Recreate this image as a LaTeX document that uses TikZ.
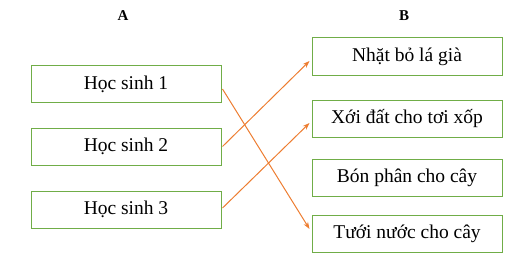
\documentclass[tikz,border=0pt]{standalone}
\usepackage{fontspec}
\setmainfont{Liberation Serif}
\usetikzlibrary{arrows.meta}
\definecolor{boxgreen}{RGB}{112,173,71}
\definecolor{arrorange}{RGB}{237,125,49}
\begin{document}
\begin{tikzpicture}[x=1pt,y=-1pt,
  itembox/.style={draw=boxgreen,line width=1pt,minimum width=190pt,minimum height=37pt,inner sep=0pt,font=\fontsize{19.5}{22}\selectfont},
  head/.style={font=\fontsize{15}{18}\selectfont\bfseries},
  arr/.style={draw=arrorange,line width=1pt,-{Stealth[length=7pt,width=5pt]}}]
\useasboundingbox (0,0) rectangle (511,262);
\node[head] (ha) at (123,16) {A};
\node[head] (hb) at (404,16) {B};
\node[itembox] (h1) at (126,84) {Học sinh 1};
\node[itembox] (h2) at (126,146.5) {Học sinh 2};
\node[itembox] (h3) at (126,209.5) {Học sinh 3};
\node[itembox] (b1) at (407,56.5) {Nhặt bỏ lá già};
\node[itembox] (b2) at (407,118.5) {Xới đất cho tơi xốp};
\node[itembox] (b3) at (407,178) {Bón phân cho cây};
\node[itembox] (b4) at (407,233.5) {Tưới nước cho cây};
\draw[arr] ([xshift=1pt,yshift=-5pt]h1.east) -- ([xshift=-2pt,yshift=4.5pt]b4.west);
\draw[arr] ([xshift=1pt]h2.east) -- ([xshift=-2pt,yshift=-4.5pt]b1.west);
\draw[arr] ([xshift=1pt,yshift=1.5pt]h3.east) -- ([xshift=-2pt,yshift=-4.5pt]b2.west);
\end{tikzpicture}
\end{document}
